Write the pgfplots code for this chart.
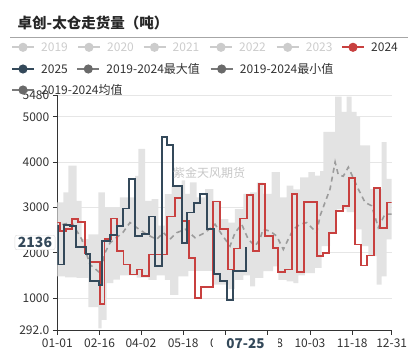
\documentclass[border=0pt]{standalone}
\usepackage{fontspec}
\setmainfont{Noto Sans CJK SC}
\usepackage{pgfplots}
\pgfplotsset{compat=1.18}
\usepgfplotslibrary{fillbetween}
\definecolor{cred}{HTML}{C8403F}
\definecolor{cblue}{HTML}{34495A}
\definecolor{cband}{HTML}{E3E3E3}
\definecolor{cmean}{HTML}{9C9C9C}
\definecolor{cgrid}{HTML}{E6E6E6}
\definecolor{caxis}{HTML}{333333}
\definecolor{cinact}{HTML}{CCCCCC}
\definecolor{cgray}{HTML}{6A6A6A}
\definecolor{cgrayl}{HTML}{7A7A7A}
\newcommand{\legitem}[6]{%
  \draw[#3, line width=2bp] (#1,#2) -- ++(22,0);
  \fill[#4] (#1+11,#2) circle (4.6);
  \node[anchor=west, inner sep=0pt, text=#5, font=\fontsize{12bp}{14bp}\selectfont] at (#1+29,#2) {#6};
}
\begin{document}
\begin{tikzpicture}[x=1bp,y=1bp]
\begin{axis}[
  at={(57.3bp,24.8bp)}, anchor=south west,
  scale only axis, width=334.4bp, height=235.1bp,
  xmin=0, xmax=364, ymin=292, ymax=5480,
  axis lines*=left, axis line style={caxis, line width=0.8bp, -},
  xtick={0,46,91,137,183,229,275,321,364},
  xticklabels={01-01,02-16,04-02,05-18,07-03,08-18,10-03,11-18,12-31},
  ytick={292,1000,2000,3000,4000,5000,5480},
  yticklabels={292.0,1000,2000,3000,4000,5000,5480},
  tick align=outside, major tick length=4.5bp,
  tick style={caxis, line width=0.8bp},
  ymajorgrids, grid style={cgrid, line width=0.8bp},
  ticklabel style={font=\fontsize{12bp}{14bp}\selectfont, text=caxis},
  xticklabel style={yshift=-1bp},
  clip=true,
]
\addplot[const plot, draw=none, name path=upper] coordinates {
(0,3111)(6.5,3333)(12,3926)(21.1,3148)(26.6,2300)(33.7,2407)(44.6,3333)(51.9,3000)(68.2,3222)(84.6,3700)(88.2,4296)(95.5,3148)(102.8,3185)(109.9,2600)(117.2,3296)(124.5,3481)(135.4,3600)(139,3300)(144.4,3556)(151.7,3222)(160.8,3407)(169.8,3150)(177.1,2741)(186.1,2667)(193.4,2963)(202.5,3300)(209.8,3333)(217.2,3550)(224.2,3300)(233.4,3778)(242.4,3222)(249.7,3481)(256.9,3400)(264.2,3667)(273.2,3778)(280.5,3704)(286,3800)(289.6,4667)(302.4,5444)(309.6,5111)(315,5444)(320.5,5111)(325.9,5000)(329.5,4370)(340.4,3407)(353.1,4444)(358.6,3630)(364,3630)};
\addplot[const plot, draw=none, name path=lower] coordinates {
(0,1481)(8.5,1460)(21.1,1444)(33.7,800)(44.6,333)(48.3,519)(53.8,1333)(61,1407)(68.2,1500)(86.4,1450)(99.1,1400)(108.2,1500)(117.2,1400)(122.7,1074)(131.7,1481)(142.6,1600)(169.8,1300)(186.1,1200)(193.4,1400)(202.5,1500)(209.8,1259)(215.2,1444)(224.2,1593)(235,1700)(240.6,1400)(249.7,1370)(256.9,1330)(262.4,1500)(269.6,1550)(280.5,1667)(287.8,2148)(296.9,2444)(304.2,2963)(315,2900)(324,2519)(331.3,2148)(338.5,1926)(347.7,1296)(353.1,1481)(358.6,2296)(364,2296)};
\addplot[fill=cband, draw=none] fill between[of=upper and lower];
\addplot[cmean, line width=1.6bp, dash pattern=on 5bp off 4bp] coordinates {
(0,2450)(6.5,2630)(15.7,2667)(26.6,2300)(35.6,1740)(46.5,1556)(51.9,2000)(57.4,2220)(71.5,2450)(79.1,2667)(86.4,2556)(97.3,2407)(108.2,2296)(115.4,2444)(122.7,2300)(130,2444)(139.6,2519)(149.9,2333)(160.8,2444)(171.7,2630)(179,2407)(188,2148)(193.4,2440)(200.7,2630)(207.9,2296)(215.2,2148)(220.6,2296)(223.9,2519)(231.3,2480)(238.8,2370)(246,2074)(251.4,2300)(256.9,2519)(264.2,2630)(271.5,2667)(282.4,2444)(286,2815)(291.4,3111)(296.9,3407)(302.4,4000)(305.9,3718)(311.3,3690)(316.8,3890)(327.6,3407)(335,3111)(342.2,3037)(349.4,2556)(356.7,2852)(364,2852)};
\addplot[const plot, cred, line width=1.8bp] coordinates {
(0,2667)(2.9,2481)(9.1,2533)(15.7,2741)(22.2,2681)(30.2,1985)(35.6,1793)(46.5,874)(51.4,2311)(58.1,2756)(64.7,2037)(72,1740)(79.1,1519)(86.8,1630)(91.9,1481)(100.1,1963)(119.1,2800)(128.1,3207)(135.4,2702)(143.4,1889)(150.2,1000)(156.1,1240)(169.7,3133)(177.1,2519)(186.1,1630)(192.7,2096)(198.9,2756)(206.2,3281)(212.7,2037)(219.9,3519)(226.1,2370)(234.5,2111)(240.6,1570)(247.9,1630)(255.1,3296)(261.2,1570)(268.5,3126)(282.4,1926)(289.5,2000)(296.1,2444)(303.4,2926)(310.7,3037)(317.5,3644)(324,2185)(330.6,1719)(337.4,1941)(344.7,3422)(351.3,2556)(358.6,3111)(364,3111)};
\addplot[const plot, cblue, line width=1.8bp] coordinates {
(0,2600)(1,1741)(7.6,2615)(13.8,2593)(20.4,2126)(31.2,1978)(35.6,1370)(45.7,1281)(48.7,2259)(57.4,2393)(64.7,2590)(71.8,2978)(78.4,3620)(84.6,2370)(91.9,2407)(100.1,2800)(106.3,1704)(113.6,4556)(119.1,4385)(126.3,3481)(135.4,2222)(141.5,2889)(148.8,3096)(155,3296)(163.3,2518)(170.6,1530)(177.1,1370)(184.4,963)(191.6,1607)(198.1,1600)(205.4,2136)};
\end{axis}
% watermark
\node[text=black!22, font=\fontsize{12bp}{14bp}\selectfont] at (209,182) {紫金天风期货};
% title
\node[anchor=west, inner sep=0pt, text=black!85, font=\bfseries\fontsize{14.5bp}{16bp}\selectfont] at (17.5,332.5) {卓创-太仓走货量（吨）};
\draw[black!35, line width=0.8bp] (10,317.7) -- (408,317.7);
% legend
\legitem{12}{307.7}{cinact}{cinact}{cinact}{2019}
\legitem{78}{307.7}{cinact}{cinact}{cinact}{2020}
\legitem{143.5}{307.7}{cinact}{cinact}{cinact}{2021}
\legitem{210}{307.7}{cinact}{cinact}{cinact}{2022}
\legitem{276.7}{307.7}{cinact}{cinact}{cinact}{2023}
\legitem{342}{307.7}{cred}{cred}{caxis}{2024}
\legitem{12}{286}{cblue}{cblue}{caxis}{2025}
\legitem{77.3}{286}{cgrayl}{cgray}{caxis}{2019-2024最大值}
\legitem{210.7}{286}{cgrayl}{cgray}{caxis}{2019-2024最小值}
\legitem{12}{265}{cgrayl}{cgray}{caxis}{2019-2024均值}
% axis pointer labels
\node[draw=black!15, fill=white, rounded corners=2bp, text=cblue, inner xsep=3bp, inner ysep=2bp, font=\bfseries\fontsize{14bp}{16bp}\selectfont] at (35,112.5) {2136};
\node[fill=white, text=cblue, inner sep=0pt, minimum width=64bp, minimum height=16bp, font=\bfseries\fontsize{13.5bp}{15bp}\selectfont] at (245.5,11) {07-25};
\pgfresetboundingbox
\useasboundingbox (0,0) rectangle (418,355);
\end{tikzpicture}
\end{document}
